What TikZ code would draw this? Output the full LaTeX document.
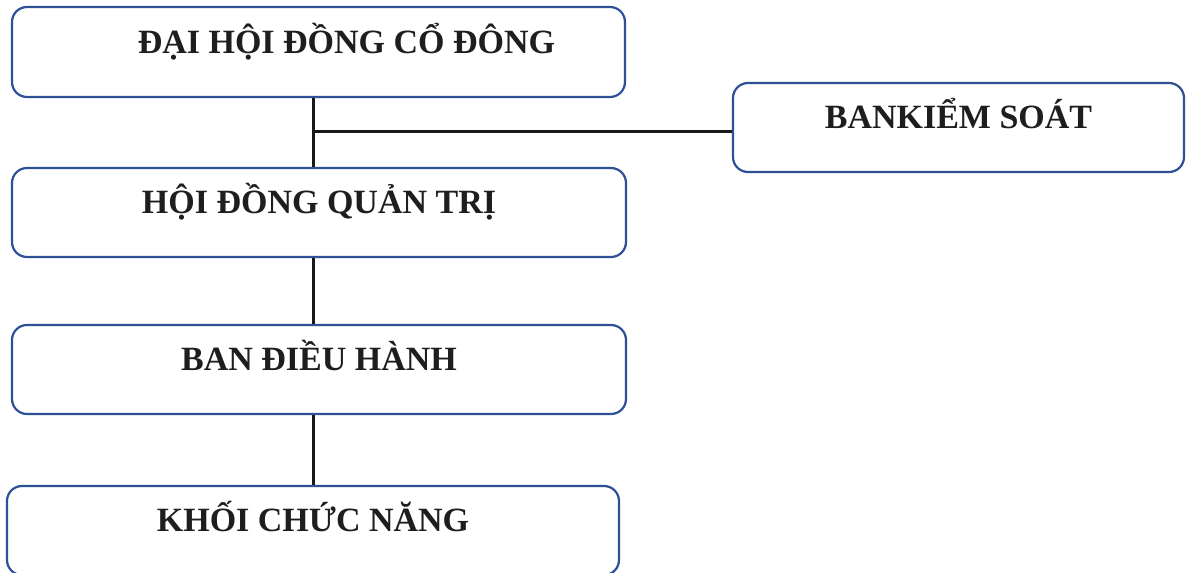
\documentclass[tikz,border=0pt]{standalone}
\usepackage{fontspec}
\setmainfont{Liberation Serif}
\definecolor{boxblue}{RGB}{46,80,150}
\definecolor{txt}{RGB}{30,30,30}
\begin{document}
\begin{tikzpicture}[x=1pt,y=-1pt,
  orgbox/.style={draw=boxblue, line width=2.2pt, rounded corners=15pt, fill=white,
    minimum height=89pt, inner sep=0pt, text=txt,
    font=\fontsize{34}{40}\selectfont\bfseries, text height=24pt, text depth=22pt},
  conn/.style={draw=black!90, line width=3pt}]
\useasboundingbox (0,0) rectangle (1187,573);
\clip (0,0) rectangle (1187,573);
\fill[white] (0,0) rectangle (1187,573);
\node[orgbox, minimum width=613pt, minimum height=90pt] (b1) at (318.5,52) {\hspace*{56pt}ĐẠI HỘI ĐỒNG CỔ ĐÔNG};
\node[orgbox, minimum width=614pt] (b2) at (319,212.5) {HỘI ĐỒNG QUẢN TRỊ};
\node[orgbox, minimum width=614pt] (b3) at (319,369.5) {BAN ĐIỀU HÀNH};
\node[orgbox, minimum width=612pt] (b4) at (313,530.5) {KHỐI CHỨC NĂNG};
\node[orgbox, minimum width=451pt] (rb) at (958.5,127.5) {BANKIỂM SOÁT};
\coordinate (j) at (313,131);
\draw[conn] (b1.south -| j) -- (b2.north -| j);
\draw[conn] (j) -- (j -| rb.west);
\draw[conn] (b2.south -| j) -- (b3.north -| j);
\draw[conn] (b3.south -| j) -- (b4.north -| j);
\end{tikzpicture}
\end{document}
